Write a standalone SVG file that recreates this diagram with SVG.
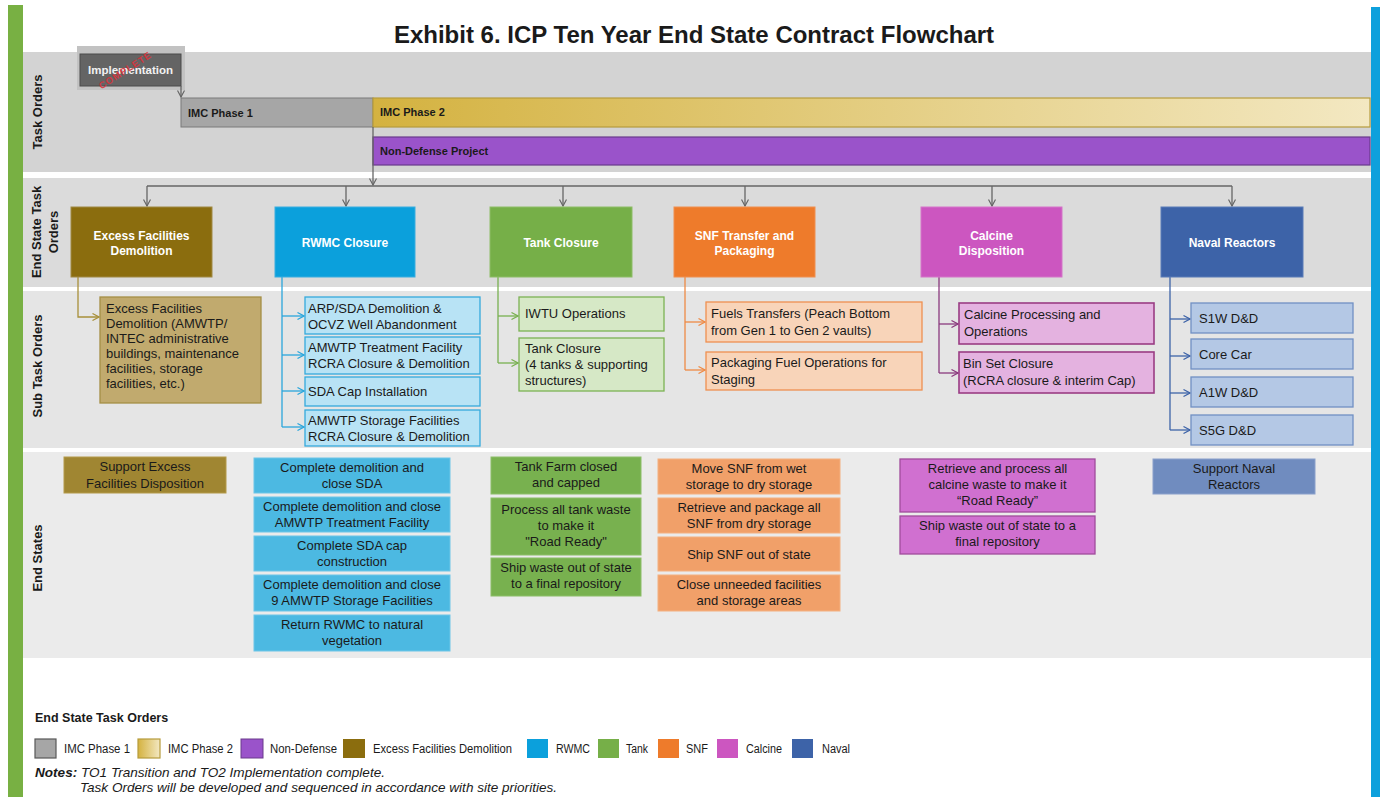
<svg xmlns="http://www.w3.org/2000/svg" width="1380" height="797" viewBox="0 0 1380 797">
<defs>
<linearGradient id="gold" x1="0" y1="0" x2="1" y2="0">
<stop offset="0" stop-color="#d4b240"/>
<stop offset="1" stop-color="#f3e8c2"/>
</linearGradient>
<marker id="mEx" viewBox="0 0 8 8" refX="7.5" refY="4" markerWidth="8" markerHeight="8" markerUnits="userSpaceOnUse" orient="auto"><path d="M1,0.5 L7.5,4 L1,7.5" fill="none" stroke="#a8903a" stroke-width="1.2"/></marker>
<marker id="mRw" viewBox="0 0 8 8" refX="7.5" refY="4" markerWidth="8" markerHeight="8" markerUnits="userSpaceOnUse" orient="auto"><path d="M1,0.5 L7.5,4 L1,7.5" fill="none" stroke="#2aa6dc" stroke-width="1.2"/></marker>
<marker id="mTk" viewBox="0 0 8 8" refX="7.5" refY="4" markerWidth="8" markerHeight="8" markerUnits="userSpaceOnUse" orient="auto"><path d="M1,0.5 L7.5,4 L1,7.5" fill="none" stroke="#78b050" stroke-width="1.2"/></marker>
<marker id="mSn" viewBox="0 0 8 8" refX="7.5" refY="4" markerWidth="8" markerHeight="8" markerUnits="userSpaceOnUse" orient="auto"><path d="M1,0.5 L7.5,4 L1,7.5" fill="none" stroke="#ef8a45" stroke-width="1.2"/></marker>
<marker id="mCa" viewBox="0 0 8 8" refX="7.5" refY="4" markerWidth="8" markerHeight="8" markerUnits="userSpaceOnUse" orient="auto"><path d="M1,0.5 L7.5,4 L1,7.5" fill="none" stroke="#8a3a7e" stroke-width="1.2"/></marker>
<marker id="mNv" viewBox="0 0 8 8" refX="7.5" refY="4" markerWidth="8" markerHeight="8" markerUnits="userSpaceOnUse" orient="auto"><path d="M1,0.5 L7.5,4 L1,7.5" fill="none" stroke="#3d63a8" stroke-width="1.2"/></marker>
<marker id="mDown" viewBox="0 0 8 8" refX="7.5" refY="4" markerWidth="8" markerHeight="8" markerUnits="userSpaceOnUse" orient="auto"><path d="M1,0.5 L7.5,4 L1,7.5" fill="none" stroke="#666" stroke-width="1.2"/></marker>
</defs>
<style>
text{font-family:"Liberation Sans",Arial,sans-serif;fill:#1a1a1a}
.title{font-size:24px;font-weight:bold;text-anchor:middle}
.band{font-size:13px;font-weight:bold;text-anchor:middle}
.to{font-size:11px;font-weight:bold}
.l1{font-size:12px;font-weight:bold;fill:#fff;text-anchor:middle}
.sub{font-size:13px}
.es{font-size:13px;text-anchor:middle}
.lg{font-size:12px}
.note{font-size:13.5px;font-style:italic}
.conn{fill:none;stroke-width:1.3}
</style>
<rect x="0" y="0" width="1380" height="797" fill="#ffffff"/>
<!-- side bars -->
<rect x="8" y="5" width="15" height="792" fill="#78b043"/>
<rect x="1371" y="7" width="9" height="790" fill="#0ea0dc"/>
<!-- bands -->
<rect x="23" y="52" width="1348" height="120" fill="#d3d3d3"/>
<rect x="23" y="178" width="1348" height="109" fill="#dbdbdb"/>
<rect x="23" y="291" width="1348" height="157" fill="#e5e5e5"/>
<rect x="23" y="452" width="1348" height="206" fill="#ebebeb"/>
<text class="title" x="694" y="43">Exhibit 6. ICP Ten Year End State Contract Flowchart</text>
<text class="band" transform="translate(42,112) rotate(-90)">Task Orders</text>
<text class="band" transform="translate(41,232) rotate(-90)">End State Task</text>
<text class="band" transform="translate(58,232) rotate(-90)">Orders</text>
<text class="band" transform="translate(42,366) rotate(-90)">Sub Task Orders</text>
<text class="band" transform="translate(42,558) rotate(-90)">End States</text>

<!-- Task orders -->
<g id="implementation">
<rect x="77" y="46" width="108" height="44" fill="#c2c2c2"/>
<rect x="80" y="54" width="101" height="32" fill="#646464" stroke="#4a4a4a" stroke-width="1"/>
<text x="130.5" y="74" font-size="11.5" font-weight="bold" text-anchor="middle" style="fill:#f2f2f2">Implementation</text>
<text transform="translate(127,73) rotate(-33)" font-size="9.5" font-weight="bold" text-anchor="middle" letter-spacing="1" style="fill:#e0303a" opacity="0.85">COMPLETE</text>
</g>
<g id="imc1">
<rect x="181" y="98" width="192" height="29" fill="#a6a6a6" stroke="#7a7a7a" stroke-width="1"/>
<text class="to" x="188" y="117">IMC Phase 1</text>
</g>
<g id="imc2">
<rect x="373" y="98" width="997" height="29" fill="url(#gold)" stroke="#b69c3c" stroke-width="1.2"/>
<text class="to" x="380" y="116">IMC Phase 2</text>
</g>
<g id="nondefense">
<rect x="373" y="137" width="997" height="28" fill="#9a53ca" stroke="#6a3a8c" stroke-width="1.2"/>
<text class="to" x="380" y="155">Non-Defense Project</text>
</g>

<!-- connectors -->
<g id="connectors">
<path class="conn" stroke="#666" d="M181,86 V97" marker-end="url(#mDown)"/>
<path class="conn" stroke="#666" d="M373,127 V185" marker-end="url(#mDown)"/>
<path class="conn" stroke="#666" d="M147,186 H1232"/>
<path class="conn" stroke="#666" d="M147,186 V206" marker-end="url(#mDown)"/>
<path class="conn" stroke="#666" d="M346,186 V206" marker-end="url(#mDown)"/>
<path class="conn" stroke="#666" d="M563,186 V206" marker-end="url(#mDown)"/>
<path class="conn" stroke="#666" d="M745,186 V206" marker-end="url(#mDown)"/>
<path class="conn" stroke="#666" d="M992,186 V206" marker-end="url(#mDown)"/>
<path class="conn" stroke="#666" d="M1232,186 V206" marker-end="url(#mDown)"/>
<path class="conn" stroke="#a8903a" d="M78,277 V317 H99" marker-end="url(#mEx)"/>
<path class="conn" stroke="#2aa6dc" d="M282,277 V427"/>
<path class="conn" stroke="#2aa6dc" d="M282,316 H304" marker-end="url(#mRw)"/>
<path class="conn" stroke="#2aa6dc" d="M282,355 H304" marker-end="url(#mRw)"/>
<path class="conn" stroke="#2aa6dc" d="M282,391 H304" marker-end="url(#mRw)"/>
<path class="conn" stroke="#2aa6dc" d="M282,427 H304" marker-end="url(#mRw)"/>
<path class="conn" stroke="#78b050" d="M498,277 V363"/>
<path class="conn" stroke="#78b050" d="M498,316 H518" marker-end="url(#mTk)"/>
<path class="conn" stroke="#78b050" d="M498,363 H518" marker-end="url(#mTk)"/>
<path class="conn" stroke="#ef8a45" d="M685,277 V370"/>
<path class="conn" stroke="#ef8a45" d="M685,322 H705" marker-end="url(#mSn)"/>
<path class="conn" stroke="#ef8a45" d="M685,370 H705" marker-end="url(#mSn)"/>
<path class="conn" stroke="#8a3a7e" stroke-width="2" d="M939,277 V373"/>
<path class="conn" stroke="#8a3a7e" stroke-width="2" d="M939,324 H958" marker-end="url(#mCa)"/>
<path class="conn" stroke="#8a3a7e" stroke-width="2" d="M939,373 H958" marker-end="url(#mCa)"/>
<path class="conn" stroke="#3d63a8" d="M1170,277 V430"/>
<path class="conn" stroke="#3d63a8" d="M1170,319 H1190" marker-end="url(#mNv)"/>
<path class="conn" stroke="#3d63a8" d="M1170,356 H1190" marker-end="url(#mNv)"/>
<path class="conn" stroke="#3d63a8" d="M1170,393 H1190" marker-end="url(#mNv)"/>
<path class="conn" stroke="#3d63a8" d="M1170,430 H1190" marker-end="url(#mNv)"/>
</g>

<!-- Level 1 -->
<g id="excess">
<rect x="71" y="207" width="141" height="70" fill="#8b6d0e" stroke="#a08a44" stroke-width="1"/>
<text class="l1" x="141.5" y="240">Excess Facilities</text>
<text class="l1" x="141.5" y="255">Demolition</text>
</g>
<g id="rwmc">
<rect x="275" y="207" width="140" height="70" fill="#0ba0dc" stroke="#3aaee0" stroke-width="1"/>
<text class="l1" x="345" y="247">RWMC Closure</text>
</g>
<g id="tank">
<rect x="490" y="207" width="142" height="70" fill="#76af48" stroke="#8dbd66" stroke-width="1"/>
<text class="l1" x="561" y="247">Tank Closure</text>
</g>
<g id="snf">
<rect x="674" y="207" width="141" height="70" fill="#ee7b2b" stroke="#f09050" stroke-width="1"/>
<text class="l1" x="744.5" y="240">SNF Transfer and</text>
<text class="l1" x="744.5" y="255">Packaging</text>
</g>
<g id="calcine">
<rect x="921" y="207" width="141" height="70" fill="#cc56c0" stroke="#d575c9" stroke-width="1"/>
<text class="l1" x="991.5" y="240">Calcine</text>
<text class="l1" x="991.5" y="255">Disposition</text>
</g>
<g id="naval">
<rect x="1161" y="207" width="142" height="70" fill="#3d63a8" stroke="#5a7cb8" stroke-width="1"/>
<text class="l1" x="1232" y="247">Naval Reactors</text>
</g>

<!-- Sub task orders -->
<g id="sub-excess">
<rect x="100" y="297" width="161" height="106" fill="#c1aa6e" stroke="#a58f45" stroke-width="1.3"/>
<text class="sub" x="106" y="313">Excess Facilities</text>
<text class="sub" x="106" y="328">Demolition (AMWTP/</text>
<text class="sub" x="106" y="343">INTEC administrative</text>
<text class="sub" x="106" y="358">buildings, maintenance</text>
<text class="sub" x="106" y="373">facilities, storage</text>
<text class="sub" x="106" y="388">facilities, etc.)</text>
</g>
<g id="sub-rwmc-1">
<rect x="305" y="297" width="175" height="37" fill="#b8e3f5" stroke="#35aadc" stroke-width="1.3"/>
<text class="sub" x="308" y="313">ARP/SDA Demolition &amp;</text>
<text class="sub" x="308" y="329">OCVZ Well Abandonment</text>
</g>
<g id="sub-rwmc-2">
<rect x="305" y="337" width="175" height="37" fill="#b8e3f5" stroke="#35aadc" stroke-width="1.3"/>
<text class="sub" x="308" y="352">AMWTP Treatment Facility</text>
<text class="sub" x="308" y="368">RCRA Closure &amp; Demolition</text>
</g>
<g id="sub-rwmc-3">
<rect x="305" y="377" width="175" height="29" fill="#b8e3f5" stroke="#35aadc" stroke-width="1.3"/>
<text class="sub" x="308" y="396">SDA Cap Installation</text>
</g>
<g id="sub-rwmc-4">
<rect x="305" y="410" width="175" height="36" fill="#b8e3f5" stroke="#35aadc" stroke-width="1.3"/>
<text class="sub" x="308" y="425">AMWTP Storage Facilities</text>
<text class="sub" x="308" y="441">RCRA Closure &amp; Demolition</text>
</g>
<g id="sub-tank-1">
<rect x="519" y="297" width="145" height="34" fill="#d6e8c6" stroke="#7cb254" stroke-width="1.3"/>
<text class="sub" x="525" y="318">IWTU Operations</text>
</g>
<g id="sub-tank-2">
<rect x="519" y="338" width="145" height="53" fill="#d6e8c6" stroke="#7cb254" stroke-width="1.3"/>
<text class="sub" x="525" y="353">Tank Closure</text>
<text class="sub" x="525" y="369">(4 tanks &amp; supporting</text>
<text class="sub" x="525" y="385">structures)</text>
</g>
<g id="sub-snf-1">
<rect x="706" y="302" width="216" height="40" fill="#f8d4b9" stroke="#ef9050" stroke-width="1.3"/>
<text class="sub" x="711" y="318">Fuels Transfers (Peach Bottom</text>
<text class="sub" x="711" y="335">from Gen 1 to Gen 2 vaults)</text>
</g>
<g id="sub-snf-2">
<rect x="706" y="352" width="216" height="38" fill="#f8d4b9" stroke="#ef9050" stroke-width="1.3"/>
<text class="sub" x="711" y="367">Packaging Fuel Operations for</text>
<text class="sub" x="711" y="384">Staging</text>
</g>
<g id="sub-calcine-1">
<rect x="959" y="303" width="195" height="41" fill="#e4b2e0" stroke="#9a3c84" stroke-width="1.6"/>
<text class="sub" x="964" y="319">Calcine Processing and</text>
<text class="sub" x="964" y="336">Operations</text>
</g>
<g id="sub-calcine-2">
<rect x="959" y="352" width="195" height="41" fill="#e4b2e0" stroke="#9a3c84" stroke-width="1.6"/>
<text class="sub" x="963" y="368">Bin Set Closure</text>
<text class="sub" x="963" y="385">(RCRA closure &amp; interim Cap)</text>
</g>
<g id="sub-naval-1">
<rect x="1191" y="303" width="162" height="30" fill="#b4c8e5" stroke="#7090c4" stroke-width="1.3"/>
<text class="sub" x="1199" y="323">S1W D&amp;D</text>
</g>
<g id="sub-naval-2">
<rect x="1191" y="339" width="162" height="30" fill="#b4c8e5" stroke="#7090c4" stroke-width="1.3"/>
<text class="sub" x="1199" y="359">Core Car</text>
</g>
<g id="sub-naval-3">
<rect x="1191" y="377" width="162" height="30" fill="#b4c8e5" stroke="#7090c4" stroke-width="1.3"/>
<text class="sub" x="1199" y="397">A1W D&amp;D</text>
</g>
<g id="sub-naval-4">
<rect x="1191" y="415" width="162" height="30" fill="#b4c8e5" stroke="#7090c4" stroke-width="1.3"/>
<text class="sub" x="1199" y="435">S5G D&amp;D</text>
</g>

<!-- End states -->
<g id="es-excess">
<rect x="64" y="457" width="162" height="36" fill="#a08632" stroke="#b49a4a" stroke-width="1"/>
<text class="es" x="145" y="471">Support Excess</text>
<text class="es" x="145" y="488">Facilities Disposition</text>
</g>
<g id="es-rwmc-1">
<rect x="254" y="458" width="196" height="35" fill="#4cb9e2" stroke="#6cc6e8" stroke-width="1"/>
<text class="es" x="352" y="472">Complete demolition and</text>
<text class="es" x="352" y="488">close SDA</text>
</g>
<g id="es-rwmc-2">
<rect x="254" y="497" width="196" height="35" fill="#4cb9e2" stroke="#6cc6e8" stroke-width="1"/>
<text class="es" x="352" y="511">Complete demolition and close</text>
<text class="es" x="352" y="527">AMWTP Treatment Facility</text>
</g>
<g id="es-rwmc-3">
<rect x="254" y="536" width="196" height="35" fill="#4cb9e2" stroke="#6cc6e8" stroke-width="1"/>
<text class="es" x="352" y="550">Complete SDA cap</text>
<text class="es" x="352" y="566">construction</text>
</g>
<g id="es-rwmc-4">
<rect x="254" y="575" width="196" height="36" fill="#4cb9e2" stroke="#6cc6e8" stroke-width="1"/>
<text class="es" x="352" y="589">Complete demolition and close</text>
<text class="es" x="352" y="605">9 AMWTP Storage Facilities</text>
</g>
<g id="es-rwmc-5">
<rect x="254" y="615" width="196" height="36" fill="#4cb9e2" stroke="#6cc6e8" stroke-width="1"/>
<text class="es" x="352" y="629">Return RWMC to natural</text>
<text class="es" x="352" y="645">vegetation</text>
</g>
<g id="es-tank-1">
<rect x="491" y="457" width="150" height="37" fill="#78b14f" stroke="#8cbe68" stroke-width="1"/>
<text class="es" x="566" y="471">Tank Farm closed</text>
<text class="es" x="566" y="487">and capped</text>
</g>
<g id="es-tank-2">
<rect x="491" y="498" width="150" height="57" fill="#78b14f" stroke="#8cbe68" stroke-width="1"/>
<text class="es" x="566" y="514">Process all tank waste</text>
<text class="es" x="566" y="530">to make it</text>
<text class="es" x="566" y="546">"Road Ready"</text>
</g>
<g id="es-tank-3">
<rect x="491" y="558" width="150" height="38" fill="#78b14f" stroke="#8cbe68" stroke-width="1"/>
<text class="es" x="566" y="572">Ship waste out of state</text>
<text class="es" x="566" y="588">to a final repository</text>
</g>
<g id="es-snf-1">
<rect x="658" y="459" width="182" height="35" fill="#f1a069" stroke="#f4b080" stroke-width="1"/>
<text class="es" x="749" y="473">Move SNF from wet</text>
<text class="es" x="749" y="489">storage to dry storage</text>
</g>
<g id="es-snf-2">
<rect x="658" y="498" width="182" height="35" fill="#f1a069" stroke="#f4b080" stroke-width="1"/>
<text class="es" x="749" y="512">Retrieve and package all</text>
<text class="es" x="749" y="528">SNF from dry storage</text>
</g>
<g id="es-snf-3">
<rect x="658" y="537" width="182" height="34" fill="#f1a069" stroke="#f4b080" stroke-width="1"/>
<text class="es" x="749" y="559">Ship SNF out of state</text>
</g>
<g id="es-snf-4">
<rect x="658" y="575" width="182" height="36" fill="#f1a069" stroke="#f4b080" stroke-width="1"/>
<text class="es" x="749" y="589">Close unneeded facilities</text>
<text class="es" x="749" y="605">and storage areas</text>
</g>
<g id="es-calcine-1">
<rect x="900" y="459" width="195" height="53" fill="#d070d0" stroke="#a04c9c" stroke-width="1.3"/>
<text class="es" x="997.5" y="473">Retrieve and process all</text>
<text class="es" x="997.5" y="489">calcine waste to make it</text>
<text class="es" x="997.5" y="505">“Road Ready”</text>
</g>
<g id="es-calcine-2">
<rect x="900" y="516" width="195" height="38" fill="#d070d0" stroke="#a04c9c" stroke-width="1.3"/>
<text class="es" x="997.5" y="530">Ship waste out of state to a</text>
<text class="es" x="997.5" y="546">final repository</text>
</g>
<g id="es-naval">
<rect x="1153" y="459" width="162" height="35" fill="#708cbf" stroke="#8aa0cb" stroke-width="1"/>
<text class="es" x="1234" y="473">Support Naval</text>
<text class="es" x="1234" y="489">Reactors</text>
</g>

<!-- Legend -->
<g id="legend">
<text x="35" y="722" font-size="12.5" font-weight="bold">End State Task Orders</text>
<rect x="35" y="739" width="21" height="19" fill="#a6a6a6" stroke="#595959" stroke-width="1.2"/>
<text class="lg" x="64" y="753" textLength="66" lengthAdjust="spacingAndGlyphs">IMC Phase 1</text>
<rect x="138" y="739" width="22" height="19" fill="url(#gold)" stroke="#b69c3c" stroke-width="1.2"/>
<text class="lg" x="168" y="753" textLength="65" lengthAdjust="spacingAndGlyphs">IMC Phase 2</text>
<rect x="241" y="739" width="22" height="19" fill="#9a53ca" stroke="#6a3a8c" stroke-width="1"/>
<text class="lg" x="270" y="753" textLength="67" lengthAdjust="spacingAndGlyphs">Non-Defense</text>
<rect x="343" y="739" width="22" height="19" fill="#8b6d0e"/>
<text class="lg" x="373" y="753" textLength="139" lengthAdjust="spacingAndGlyphs">Excess Facilities Demolition</text>
<rect x="527" y="739" width="21" height="19" fill="#0ba0dc"/>
<text class="lg" x="556" y="753" textLength="34" lengthAdjust="spacingAndGlyphs">RWMC</text>
<rect x="598" y="739" width="21" height="19" fill="#76af48"/>
<text class="lg" x="626" y="753" textLength="22" lengthAdjust="spacingAndGlyphs">Tank</text>
<rect x="658" y="739" width="21" height="19" fill="#ee7b2b"/>
<text class="lg" x="686" y="753" textLength="22" lengthAdjust="spacingAndGlyphs">SNF</text>
<rect x="717" y="739" width="21" height="19" fill="#cc56c0"/>
<text class="lg" x="746" y="753" textLength="36" lengthAdjust="spacingAndGlyphs">Calcine</text>
<rect x="792" y="739" width="21" height="19" fill="#3d63a8"/>
<text class="lg" x="822" y="753" textLength="28" lengthAdjust="spacingAndGlyphs">Naval</text>
<text class="note" x="35" y="777" textLength="350" lengthAdjust="spacingAndGlyphs"><tspan font-weight="bold">Notes:</tspan> TO1 Transition and TO2 Implementation complete.</text>
<text class="note" x="80" y="792" textLength="477" lengthAdjust="spacingAndGlyphs">Task Orders will be developed and sequenced in accordance with site priorities.</text>
</g>
</svg>
